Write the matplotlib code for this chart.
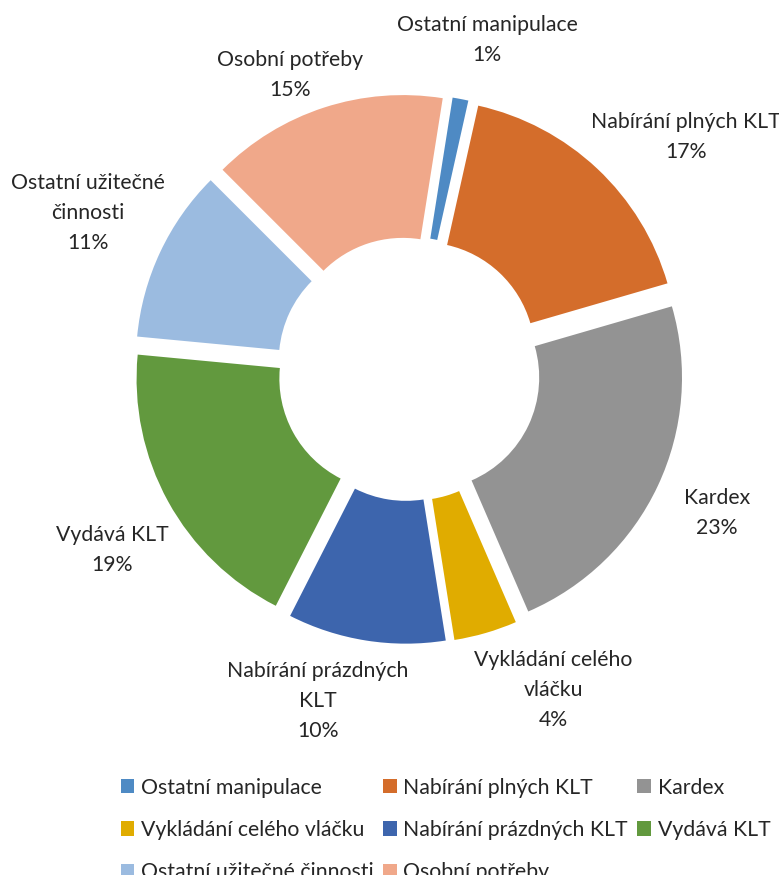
import numpy as np
import matplotlib
matplotlib.use("Agg")
import matplotlib.pyplot as plt

plt.rcParams['font.family'] = ['Lato', 'DejaVu Sans']

# Data
names = ["Ostatní manipulace", "Nabírání plných KLT", "Kardex",
         "Vykládání celého vláčku", "Nabírání prázdných KLT", "Vydává KLT",
         "Ostatní užitečné činnosti", "Osobní potřeby"]
label_names = ["Ostatní manipulace", "Nabírání plných KLT", "Kardex",
               "Vykládání celého\nvláčku", "Nabírání prázdných\nKLT", "Vydává KLT",
               "Ostatní užitečné\nčinnosti", "Osobní potřeby"]
values = [1, 17, 23, 4, 10, 19, 11, 15]
colors = ['#4E8AC4', '#D46D2B', '#939393', '#E0AC00',
          '#3D65AD', '#62993E', '#9BBBE0', '#F0A88A']

# label positions (pixels in the picture)
label_px = [(487, 40), (686, 137), (717, 513), (553, 690),
            (318, 701), (112, 550), (88, 213), (290, 75)]

W, H = 779, 875
cx, cy, S = 409, 369, 255   # pie centre and radius in pixels
fs = 15.3

fig = plt.figure(figsize=(W / 100, H / 100), dpi=100)
ax = fig.add_axes([0, 0, 1, 1])

wedges, _ = ax.pie(values, colors=colors, startangle=81, counterclock=False,
                   explode=[0.078] * len(values), radius=1,
                   wedgeprops=dict(width=0.56, edgecolor='none'))

ax.set_xlim(-cx / S, (W - cx) / S)
ax.set_ylim(-(H - cy) / S, cy / S)
ax.axis('off')

txt_color = '#262626'
for name, v, (px, py) in zip(label_names, values, label_px):
    ax.text((px - cx) / S, (cy - py) / S, f"{name}\n{v}%", ha='center', va='center',
            fontsize=fs, color=txt_color, linespacing=1.6)

# legend is filled column by column, so reorder to read row by row
order = [0, 3, 6, 1, 4, 7, 2, 5]
fig.legend([wedges[i] for i in order], [names[i] for i in order], ncol=3,
           loc='upper left', bbox_to_anchor=(110 / W, 1 - 767 / H), frameon=False,
           fontsize=fs, handlelength=0.65, handleheight=0.65, handletextpad=0.3,
           columnspacing=0.45, labelspacing=1.05, borderpad=0, labelcolor=txt_color)

fig.savefig("out.png", dpi=100)
